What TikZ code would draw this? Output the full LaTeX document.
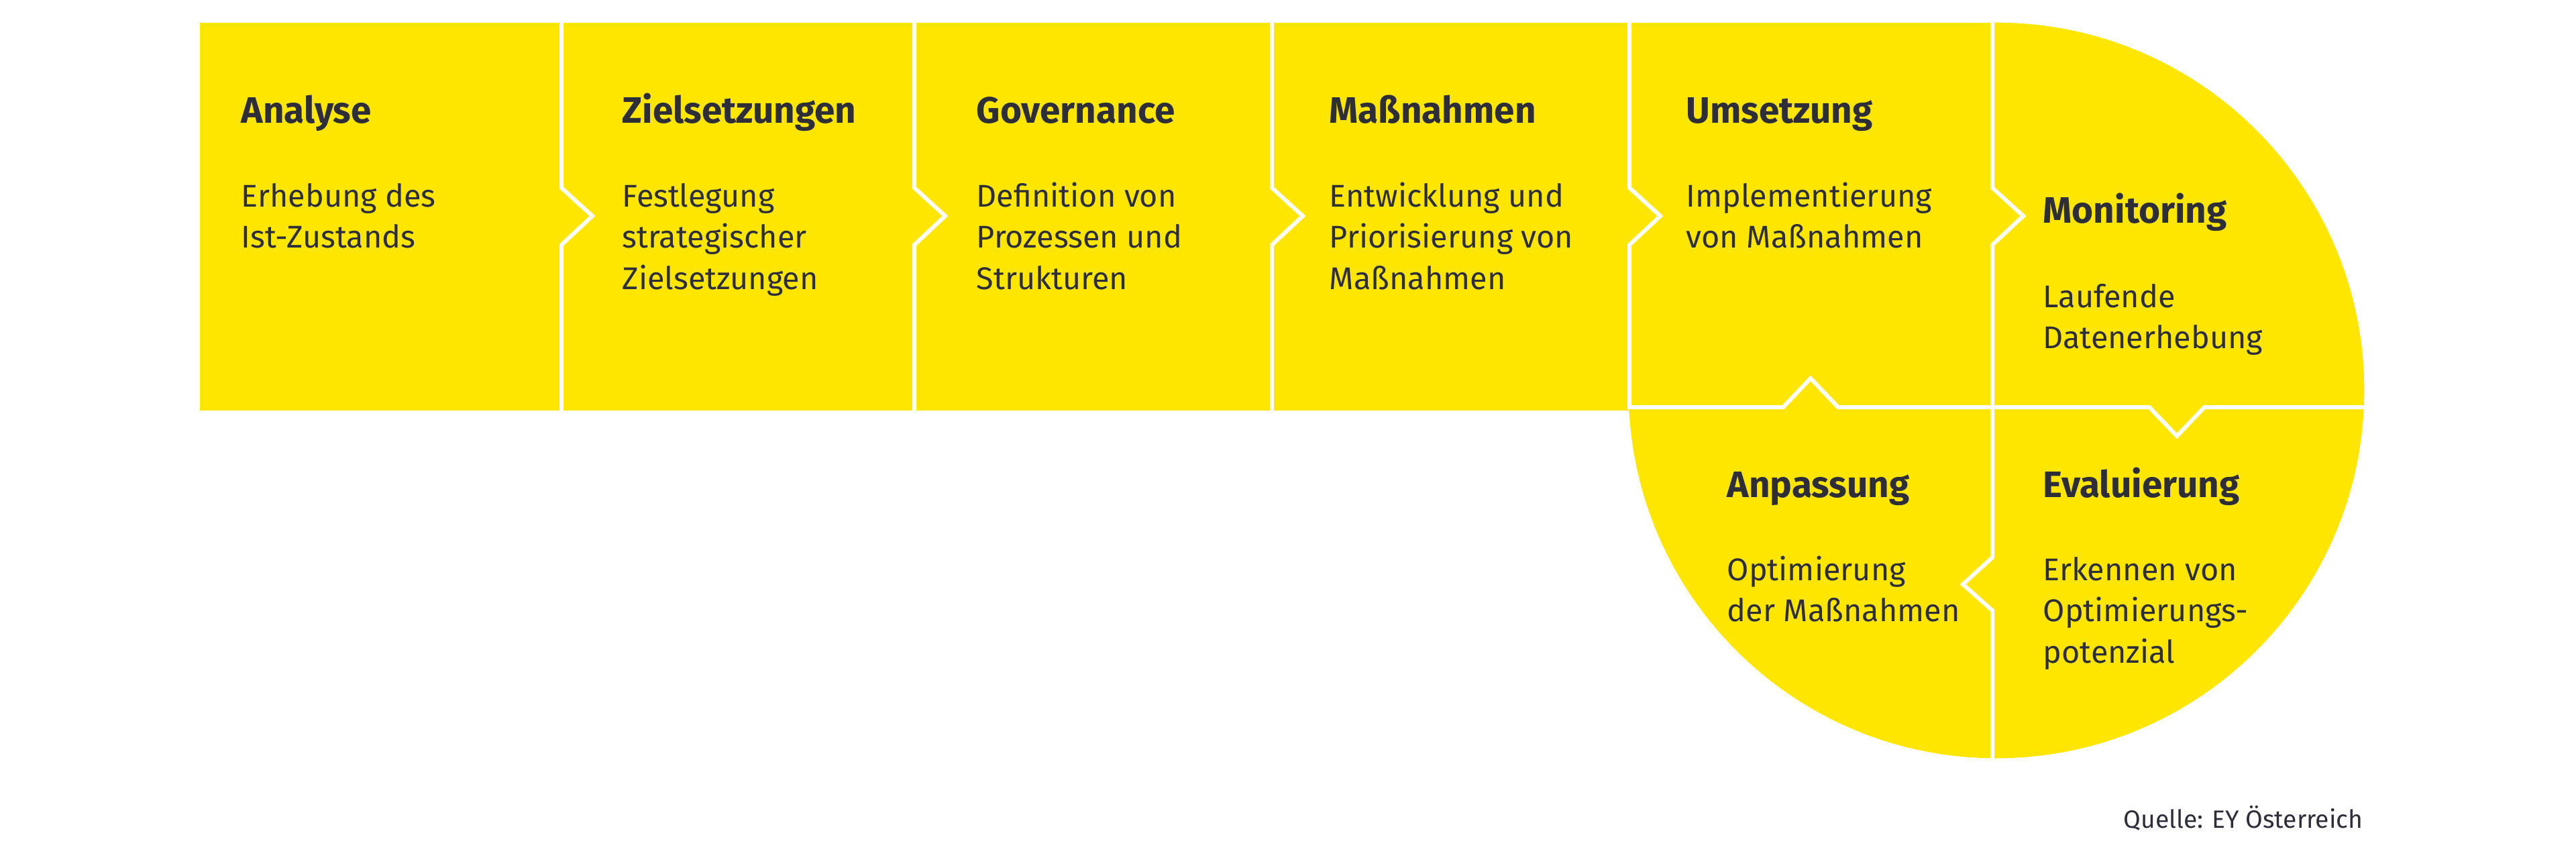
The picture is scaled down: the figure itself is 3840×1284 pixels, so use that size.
\documentclass[tikz,border=0pt]{standalone}
\usepackage{fontspec}
\setmainfont{Fira Sans}
\definecolor{eyyellow}{HTML}{FFE600}
\definecolor{eydark}{HTML}{2E2E38}
\newcommand{\linesblock}[1]{\begin{tabular}[t]{@{}l@{}}#1\end{tabular}}
\tikzset{
  divider/.style={draw=white,line width=0.06cm,line join=miter},
  titletext/.style={anchor=base west,inner sep=0pt,text=eydark,font=\fontsize{15.6}{18}\selectfont\bfseries},
  bodytext/.style={anchor=base west,inner sep=0pt,text=eydark,font=\fontsize{13.3}{17.6}\selectfont},
  sourcetext/.style={anchor=base east,inner sep=0pt,text=eydark,font=\fontsize{10.6}{12}\selectfont}
}
\begin{document}
\begin{tikzpicture}[x=0.01cm,y=-0.01cm]
\useasboundingbox (0,0) rectangle (3840,1284);
% yellow shape
\fill[eyyellow] (298,34) rectangle (2976,612);
\fill[eyyellow] (2976,582) circle[radius=5.48cm];
% dividers
\foreach \X in {837,1363,1896}{
  \draw[divider] (\X,30) -- (\X,280) -- (\X+46,322) -- (\X,365) -- (\X,616);
}
\draw[divider] (2429,30) -- (2429,280) -- (2475,322) -- (2429,365) -- (2429,607);
\draw[divider] (2970,30) -- (2970,280) -- (3016,322) -- (2970,365) -- (2970,607);
\draw[divider] (2426,607) -- (2658,607) -- (2699,564) -- (2740,607) -- (3204,607) -- (3245,650) -- (3286,607) -- (3530,607);
\draw[divider] (2970,607) -- (2970,831) -- (2926,871) -- (2970,910) -- (2970,1136);
% texts
\node[titletext] (t1) at (359,183) {Analyse};
\node[bodytext] (b1) at (359,308) {\linesblock{Erhebung des\\Ist-Zustands}};
\node[titletext] (t2) at (927,183) {Zielsetzungen};
\node[bodytext] (b2) at (927,308) {\linesblock{Festlegung\\strategischer\\Zielsetzungen}};
\node[titletext] (t3) at (1455,183) {Governance};
\node[bodytext] (b3) at (1455,308) {\linesblock{Definition von\\Prozessen und\\Strukturen}};
\node[titletext] (t4) at (1981,183) {Maßnahmen};
\node[bodytext] (b4) at (1981,308) {\linesblock{Entwicklung und\\Priorisierung von\\Maßnahmen}};
\node[titletext] (t5) at (2513,183) {Umsetzung};
\node[bodytext] (b5) at (2513,308) {\linesblock{Implementierung\\von Maßnahmen}};
\node[titletext] (t6) at (3045,332) {Monitoring};
\node[bodytext] (b6) at (3045,458) {\linesblock{Laufende\\Datenerhebung}};
\node[titletext] (t7) at (3045,741) {Evaluierung};
\node[bodytext] (b7) at (3045,865) {\linesblock{Erkennen von\\Optimierungs-\\potenzial}};
\node[titletext] (t8) at (2574,741) {Anpassung};
\node[bodytext] (b8) at (2574,865) {\linesblock{Optimierung\\der Maßnahmen}};
\node[sourcetext] (src) at (3523,1234) {Quelle: EY Österreich};
\end{tikzpicture}
\end{document}
